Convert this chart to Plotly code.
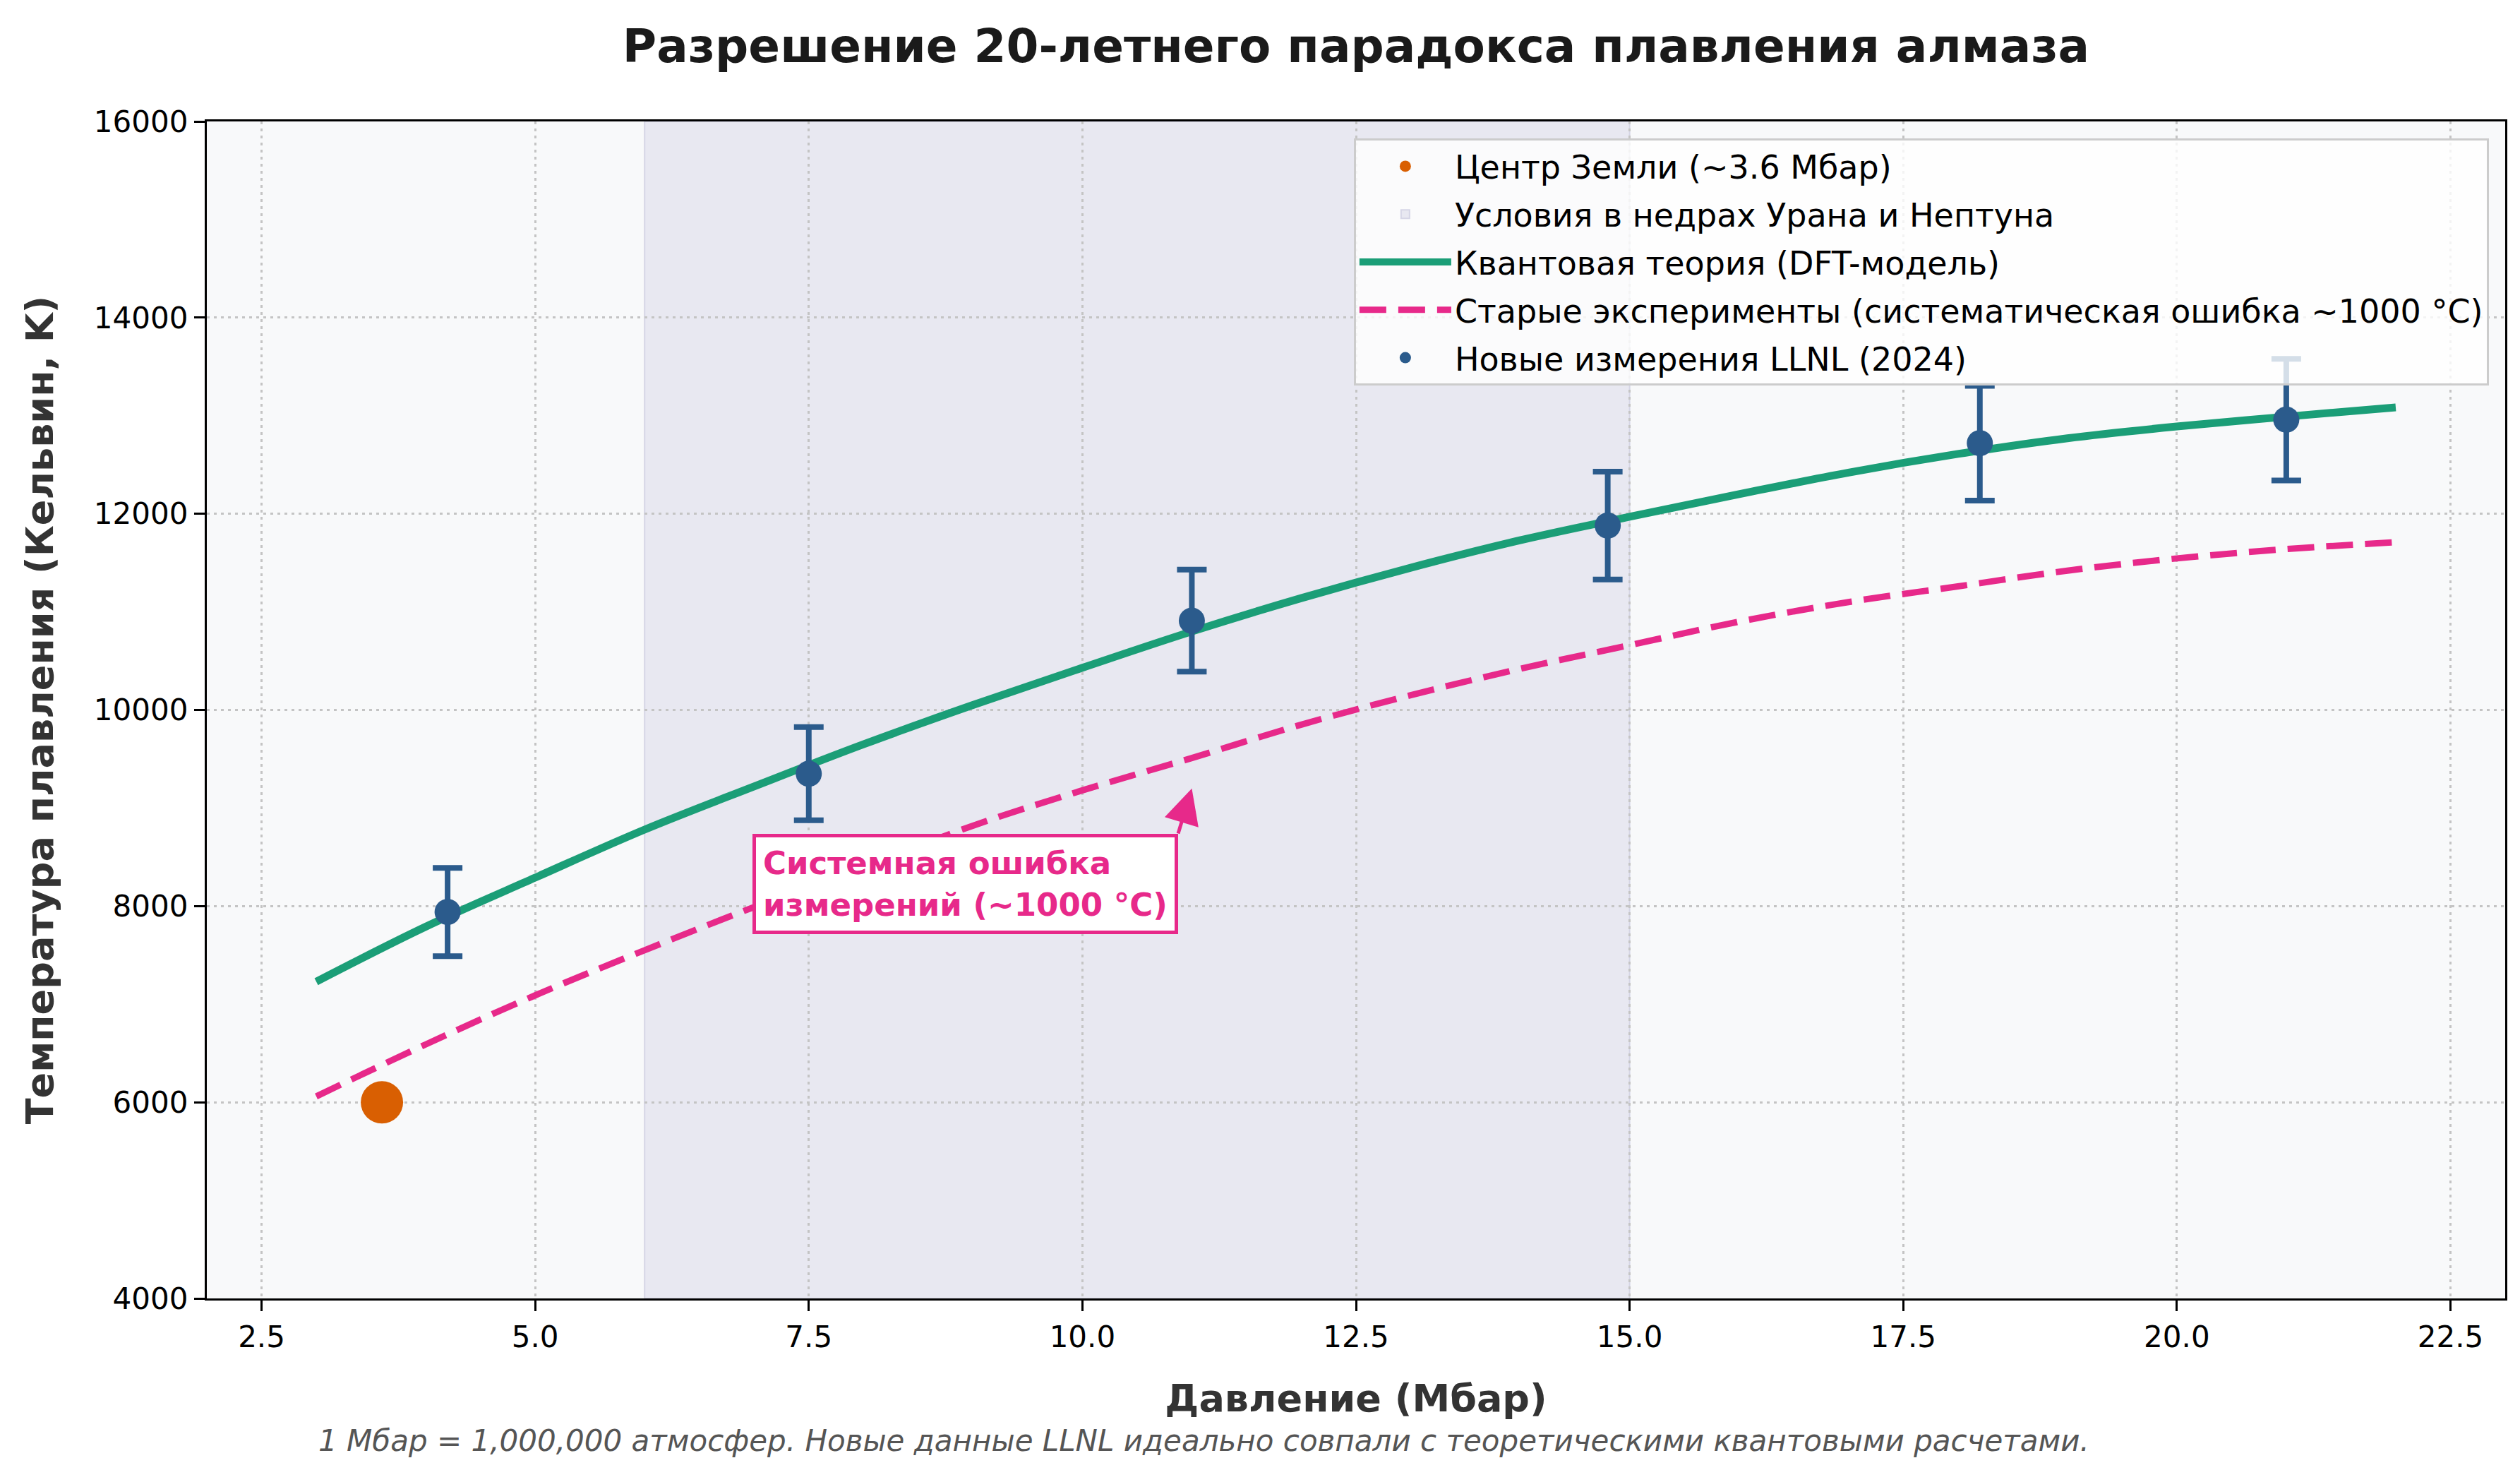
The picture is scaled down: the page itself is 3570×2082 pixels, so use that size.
import plotly.graph_objects as go

# --- Data ---
pressure_curve = [3, 4, 5, 6, 7, 8, 9, 10, 11, 12, 13, 14, 15, 16, 17, 18, 19, 20, 21, 22]
dft_theory = [7230, 7790, 8290, 8780, 9220, 9650, 10050, 10430, 10800, 11140,
              11450, 11730, 11970, 12200, 12420, 12610, 12770, 12890, 12990, 13085]
old_experiments = [6060, 6590, 7090, 7550, 7990, 8400, 8820, 9180, 9510, 9850,
                   10150, 10420, 10660, 10900, 11100, 11260, 11420, 11545, 11640, 11710]

llnl_pressure = [4.2, 7.5, 11.0, 14.8, 18.2, 21.0]
llnl_temp = [7940, 9350, 10910, 11880, 12720, 12960]
llnl_err = [450, 475, 520, 550, 585, 620]

earth_pressure = [3.6]
earth_temp = [6000]

ice_giant_range = [6, 15]          # Mbar, Uranus / Neptune interiors
annot_tip = (11, 9200)             # where the arrow points
annot_box_corner = (10.875, 8740)  # top-right corner of the label box

# --- Style ---
FONT = "DejaVu Sans"
GREEN = "#1b9e77"
PINK = "#e7298a"
ORANGE = "#d95f02"
BLUE = "#2b5b8c"

fig = go.Figure()

# Uranus / Neptune band (shape with its own legend entry)
fig.add_shape(
    type="rect", xref="x", yref="paper",
    x0=ice_giant_range[0], x1=ice_giant_range[1], y0=0, y1=1,
    fillcolor="#e8e8f1", line=dict(color="#d6d6e6", width=2),
    layer="below", showlegend=True, legendrank=2, legendgroup="band",
    name="Условия в недрах Урана и Нептуна",
)

fig.add_trace(go.Scatter(
    x=pressure_curve, y=dft_theory, mode="lines", line_shape="spline",
    line=dict(color=GREEN, width=11),
    name="Квантовая теория (DFT-модель)", legendrank=3, legendgroup="dft",
))

fig.add_trace(go.Scatter(
    x=pressure_curve, y=old_experiments, mode="lines", line_shape="spline",
    line=dict(color=PINK, width=9, dash="38px,17px"),
    name="Старые эксперименты (систематическая ошибка ~1000 °C)",
    legendrank=4, legendgroup="old",
))

fig.add_trace(go.Scatter(
    x=earth_pressure, y=earth_temp, mode="markers",
    marker=dict(color=ORANGE, size=60),
    name="Центр Земли (~3.6 Мбар)", legendrank=1, legendgroup="earth",
))

fig.add_trace(go.Scatter(
    x=llnl_pressure, y=llnl_temp, mode="markers",
    marker=dict(color=BLUE, size=37),
    error_y=dict(type="data", array=llnl_err, visible=True,
                 color=BLUE, thickness=8, width=21),
    name="Новые измерения LLNL (2024)", legendrank=5, legendgroup="llnl",
))

# Annotation: box anchored at its top-right corner, short arrow to the tip
fig.add_annotation(
    x=annot_tip[0], y=annot_tip[1], xref="x", yref="y",
    ax=annot_box_corner[0], ay=annot_box_corner[1], axref="x", ayref="y",
    xanchor="right", yanchor="top",
    text="<b>Системная ошибка<br>измерений (~1000 °C)</b>",
    align="left", font=dict(family=FONT, size=45, color=PINK),
    bgcolor="white", bordercolor=PINK, borderwidth=5, borderpad=10,
    showarrow=True, arrowhead=2, arrowsize=2, arrowwidth=5, arrowcolor=PINK,
)

# Footnote
fig.add_annotation(
    x=0.4337, y=-0.121, xref="paper", yref="paper",
    xanchor="center", yanchor="middle", showarrow=False,
    text="<i>1 Мбар = 1,000,000 атмосфер. Новые данные LLNL идеально совпали "
         "с теоретическими квантовыми расчетами.</i>",
    font=dict(family=FONT, size=42, color="#555555"),
)

axis_common = dict(
    showline=True, mirror=True, linecolor="black", linewidth=3.3,
    ticks="outside", ticklen=15, tickwidth=3.3, tickcolor="black",
    tickfont=dict(family=FONT, size=42, color="black"),
    showgrid=True, gridcolor="#c4c4c4", gridwidth=3.3, griddash="4px,6px",
    zeroline=False,
)

fig.update_layout(
    width=3570, height=2082,
    margin=dict(l=285, r=29, t=164, b=251),
    paper_bgcolor="white", plot_bgcolor="#f8f9fa",
    font=dict(family=FONT, color="black"),
    title=dict(
        text="<b>Разрешение 20-летнего парадокса плавления алмаза</b>",
        x=0.5, xref="paper", xanchor="center",
        y=0.9726, yref="container", yanchor="middle",
        font=dict(family=FONT, size=66, color="#1a1a1a"),
    ),
    xaxis=dict(
        range=[2, 23], tick0=0, dtick=2.5, tickformat=".1f",
        title=dict(text="<b>Давление (Мбар)</b>", standoff=45,
                   font=dict(family=FONT, size=54, color="#333333")),
        **axis_common,
    ),
    yaxis=dict(
        range=[4000, 16000], tick0=4000, dtick=2000, tickformat="d",
        title=dict(text="<b>Температура плавления (Кельвин, K)</b>", standoff=40,
                   font=dict(family=FONT, size=54, color="#333333")),
        **axis_common,
    ),
    legend=dict(
        x=0.9929, y=0.9856, xanchor="right", yanchor="top",
        bgcolor="rgba(255,255,255,0.8)", bordercolor="#cccccc", borderwidth=3,
        font=dict(family=FONT, size=46, color="black"),
        itemwidth=130, tracegroupgap=5,
    ),
)

fig.write_html("out.html")
